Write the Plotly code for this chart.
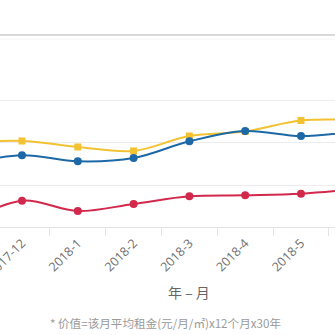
import plotly.graph_objects as go

months = ["2017-11", "2017-12", "2018-1", "2018-2", "2018-3", "2018-4", "2018-5", "2018-6"]
yellow_vals = [20.0, 20.48, 19.05, 18.10, 21.67, 22.74, 25.36, 25.48]
blue_vals = [15.0, 17.07, 15.64, 16.43, 20.40, 22.86, 21.67, 22.86]
red_vals = [1.0, 6.26, 3.81, 5.48, 7.31, 7.55, 7.93, 9.05]

x_title = "年 – 月"
footnote = "* 价值=该月平均租金(元/月/㎡)x12个月x30年"

fig = go.Figure()

def add(vals, color, symbol):
    fig.add_trace(go.Scatter(
        x=months, y=vals, mode="lines+markers",
        line=dict(color=color, width=2, shape="spline", smoothing=1.0),
        marker=dict(color=color, size=8 if symbol == "circle" else 7, symbol=symbol),
        showlegend=False, cliponaxis=True,
    ))

add(yellow_vals, "#f2c232", "square")
add(blue_vals, "#1d68a7", "circle")
add(red_vals, "#d2284c", "circle")

fig.update_layout(
    width=335, height=335,
    margin=dict(l=0, r=0, t=35, b=108, autoexpand=False),
    paper_bgcolor="#ffffff", plot_bgcolor="#ffffff",
    font=dict(family="Noto Sans CJK SC, Open Sans, sans-serif", color="#666666"),
    xaxis=dict(
        type="category", categoryorder="array", categoryarray=months,
        range=[0.606, 6.609], automargin=False,
        showgrid=False, zeroline=False,
        showline=True, linecolor="#e3e3e3", linewidth=1,
        ticks="outside", tickson="boundaries", ticklen=8, tickcolor="#e3e3e3",
        tickangle=-45, ticklabelshift=0, ticklabelstandoff=3,
        tickfont=dict(size=12.5, color="#707070", family="Open Sans, sans-serif"),
    ),
    yaxis=dict(
        range=[0, 45.71], tickvals=[10, 20, 30], showticklabels=False, automargin=False,
        showgrid=True, gridcolor="#ececec", gridwidth=1, zeroline=False, showline=False,
    ),
    annotations=[
        dict(text=x_title, xref="paper", yref="paper", x=0.564, y=-0.34, showarrow=False,
             xanchor="center", yanchor="middle", font=dict(size=14, color="#666666")),
        dict(text=footnote, xref="paper", yref="paper", x=0.493, y=-0.50, showarrow=False,
             xanchor="center", yanchor="middle", font=dict(size=11.6, color="#9a9a9a")),
    ],
    shapes=[
        dict(type="line", xref="paper", yref="paper", x0=0, x1=1, y0=1.0, y1=1.0,
             line=dict(color="#d9d9d9", width=2)),
        dict(type="line", xref="paper", yref="paper", x0=0, x1=1, y0=0.979, y1=0.979,
             line=dict(color="#f4f4f4", width=1)),
    ],
)

fig.write_html("out.html")
